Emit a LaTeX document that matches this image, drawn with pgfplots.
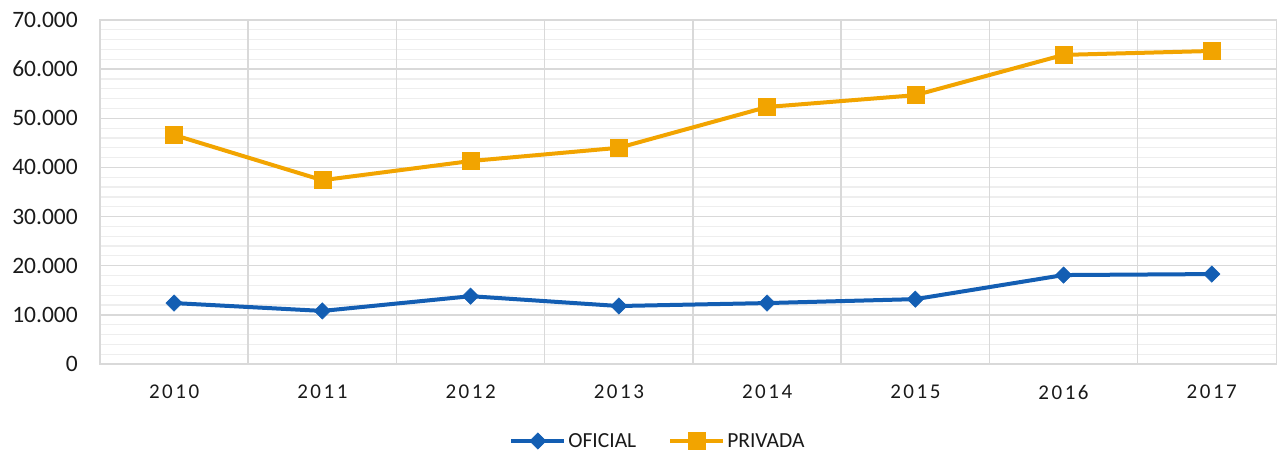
\documentclass[border=0pt]{standalone}
\usepackage{pgfplots}
\pgfplotsset{compat=1.18}
\usepackage{fontspec}
\setmainfont{Carlito}
\definecolor{ofi}{HTML}{135EB3}
\definecolor{pri}{HTML}{F2A400}
\definecolor{gridmaj}{HTML}{D9D9D9}
\definecolor{gridmin}{HTML}{EEEEEE}
\definecolor{txt}{HTML}{1A1A1A}
\newfontfamily\spaced[LetterSpace=12]{Carlito}
\begin{document}
\begin{tikzpicture}
\begin{axis}[
  at={(0,0)}, anchor=south west,
  scale only axis, width=1177pt, height=344pt,
  xmin=-0.5, xmax=7.44, ymin=0, ymax=70000,
  scaled y ticks=false,
  xtick={0,...,7},
  xticklabels={2010,2011,2012,2013,2014,2015,2016,2017},
  ytick={0,10000,20000,30000,40000,50000,60000,70000},
  yticklabels={0,10.000,20.000,30.000,40.000,50.000,60.000,70.000},
  minor y tick num=4,
  ymajorgrids, yminorgrids,
  major grid style={draw=gridmaj, line width=1.5pt},
  minor grid style={draw=gridmin, line width=1.2pt},
  extra x ticks={0.5,1.5,2.5,3.5,4.5,5.5,6.5},
  extra x tick labels={},
  extra x tick style={xmajorgrids=true},
  tick style={draw=none},
  axis line style={draw=gridmaj, line width=1.5pt},
  yticklabel style={font=\fontsize{23.5}{26}\selectfont, text=txt, inner sep=0pt, xshift=-22pt},
  xticklabel style={font=\fontsize{21}{24}\selectfont\spaced, text=txt, inner sep=0pt, yshift=-21pt},
  legend style={at={(0.474,-0.2238)}, anchor=center, draw=none, fill=none,
    inner sep=1pt, font=\fontsize{21.5}{24}\selectfont, text=txt, legend columns=2,
    /tikz/every even column/.append style={column sep=30pt}},
  legend image code/.code={%
    \draw[mark repeat=2,mark phase=2] plot coordinates {(0pt,0pt) (26.5pt,0pt) (53pt,0pt)};},
]
\addplot[ofi, line width=4pt, mark=square*, mark size=5.8pt,
  mark options={rotate=45, line width=0.5pt, solid}] coordinates {
  (0,12400) (1,10800) (2,13800) (3,11800) (4,12400) (5,13200) (6,18100) (7,18300)};
\addlegendentry{OFICIAL}
\addplot[pri, line width=4pt, mark=square*, mark size=8.5pt,
  mark options={line width=0.5pt, solid}] coordinates {
  (0,46600) (1,37400) (2,41300) (3,44000) (4,52300) (5,54700) (6,62900) (7,63700)};
\addlegendentry{PRIVADA}
\end{axis}
\pgfresetboundingbox
\useasboundingbox (-100pt,-87pt) rectangle (1177pt,364pt);
\end{tikzpicture}
\end{document}
